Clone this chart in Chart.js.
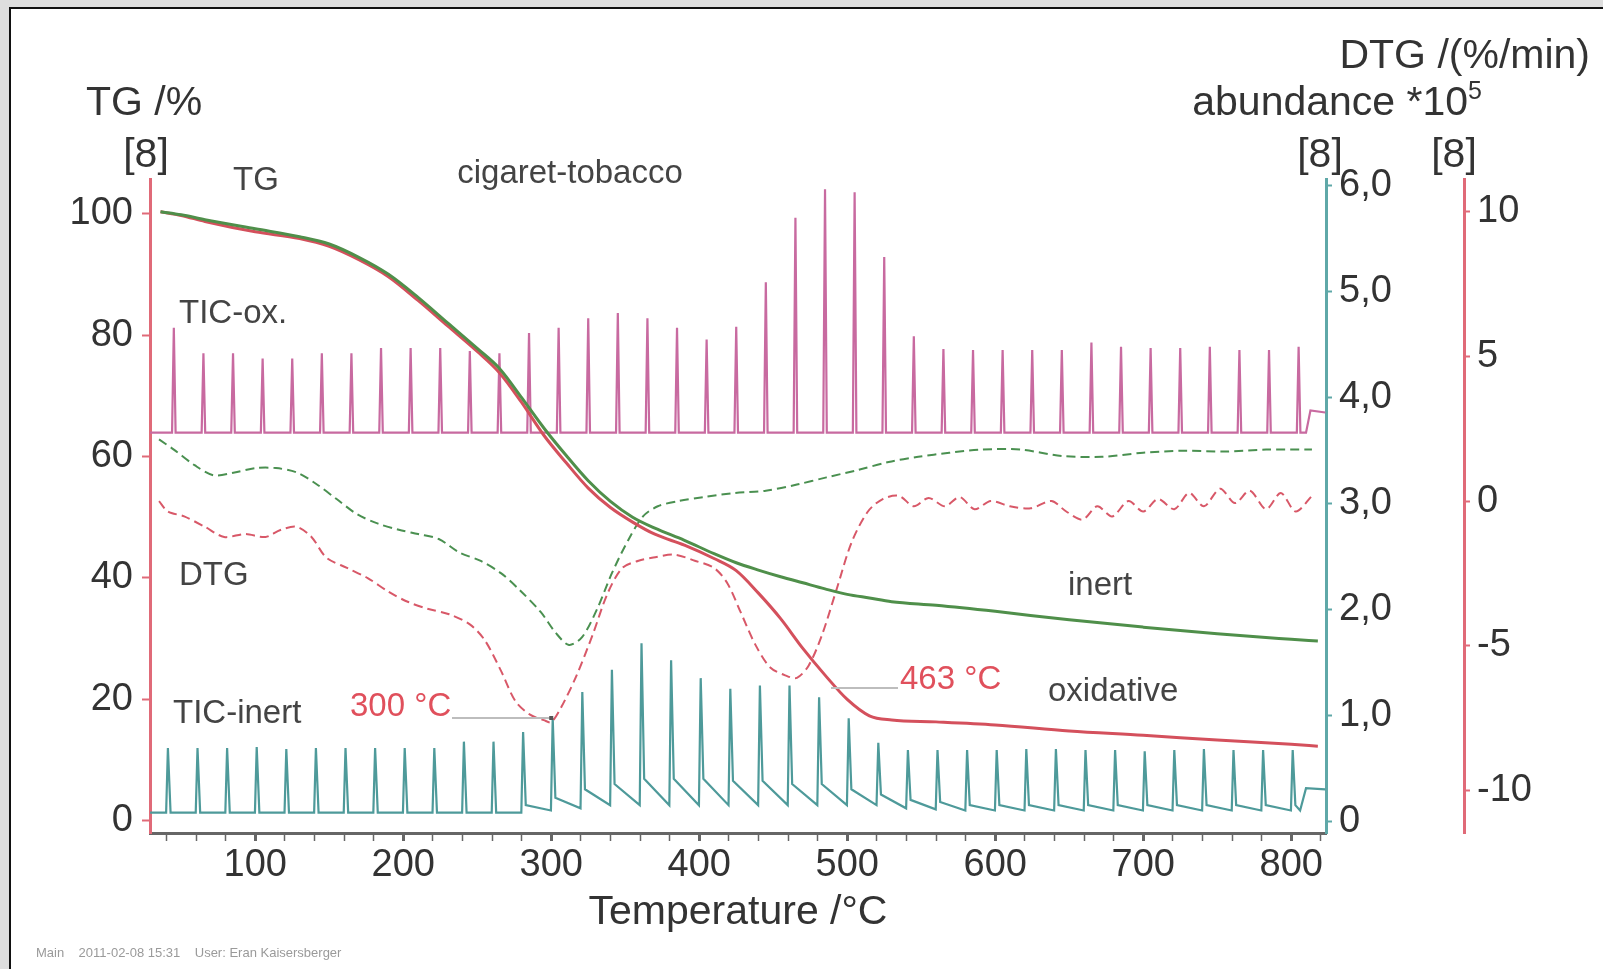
<!DOCTYPE html>
<html><head><meta charset="utf-8">
<script src="https://cdn.jsdelivr.net/npm/chart.js@4.4.1/dist/chart.umd.min.js"></script>
<style>html,body{margin:0;padding:0;background:#fff;overflow:hidden}canvas{display:block}</style>
</head><body>
<canvas id="c" width="1603" height="969"></canvas>
<script>
// ---------- data ----------
const tgTemps = [36,50,66,100,130,150,170,190,210,230,250,265,280,295,310,325,340,355,370,390,410,425,440,455,470,485,500,515,530,560,600,650,700,750,800,818];
const tgOxidative = [100.3,99.7,98.7,97.0,95.9,94.6,92.4,89.6,85.7,81.5,77.3,73.8,68.9,63.5,59.0,54.8,51.6,49.2,47.2,45.4,43.2,41.2,37.5,33.3,28.4,24.0,20.0,17.3,16.6,16.3,15.8,14.8,14.1,13.3,12.6,12.3];
const tgInert = [100.3,99.8,99.0,97.5,96.2,95.0,92.8,90.0,86.2,82.0,77.8,74.5,69.7,64.7,60.2,56.0,52.6,50.0,48.2,46.2,44.0,42.5,41.3,40.2,39.2,38.2,37.3,36.7,36.1,35.5,34.5,33.1,31.9,30.8,29.9,29.6];

const dtgOxTemps = [35,41,52,66,79,93,107,117,128,138,148,162,176,190,203,217,231,245,255,266,276,286,295,300,307,317,328,338,348,359,369,383,397,410,419,428,438,448,459,466,474,483,493,503,514,524,535,545,555,566,576,586,597,610,624,638,648,659,669,679,690,700,710,721,731,741,752,762,772,783,793,803,814];
const dtgOxidative = [0,-0.36,-0.53,-0.89,-1.24,-1.14,-1.24,-1.0,-0.89,-1.24,-1.95,-2.31,-2.66,-3.13,-3.48,-3.73,-3.91,-4.26,-4.8,-5.86,-6.93,-7.39,-7.57,-7.64,-7.1,-6.04,-4.62,-3.2,-2.31,-2.06,-1.95,-1.85,-2.06,-2.31,-2.84,-3.84,-4.97,-5.75,-6.04,-6.11,-5.68,-4.62,-3.02,-1.42,-0.36,0.07,0.18,-0.18,0.11,-0.18,0.14,-0.28,0,-0.18,-0.25,0,-0.36,-0.64,-0.18,-0.53,0,-0.36,0.07,-0.28,0.28,-0.18,0.43,-0.07,0.36,-0.28,0.28,-0.36,0.18];

const dtgInTemps = [35,45,59,72,86,100,114,128,141,155,169,183,197,210,224,238,252,266,279,293,303,312,321,331,341,352,362,372,386,403,424,445,466,486,507,528,548,569,590,617,645,672,700,728,755,783,814];
const dtgInert = [2.13,1.78,1.24,0.89,0.99,1.14,1.14,0.99,0.6,0.07,-0.46,-0.78,-0.99,-1.14,-1.31,-1.78,-2.06,-2.49,-3.09,-3.84,-4.55,-4.97,-4.69,-3.73,-2.49,-1.35,-0.53,-0.18,0,0.14,0.28,0.36,0.57,0.82,1.07,1.35,1.53,1.67,1.78,1.78,1.56,1.53,1.67,1.74,1.71,1.78,1.78];

const ticOxTemps = [45,65,85,105,125,145,165,185,205,225,245,265,285,305,325,345,365,385,405,425,445,465,485,505,525,545,565,585,605,625,645,665,685,705,725,745,765,785,805];
const ticOxPeaks = [4.66,4.42,4.42,4.37,4.37,4.42,4.42,4.47,4.47,4.47,4.44,4.42,4.61,4.66,4.75,4.80,4.75,4.66,4.55,4.67,5.09,5.70,5.97,5.94,5.33,4.58,4.46,4.45,4.45,4.45,4.45,4.52,4.48,4.47,4.47,4.48,4.45,4.45,4.48];
const ticOxBaseline = 3.67;
const ticOxEndTemps = [810,813,823];
const ticOxEndValues = [3.67,3.88,3.86];

const ticInTemps = [41,61,81,101,121,141,161,181,201,221,241,261,281,301,321,341,361,381,401,421,441,461,481,501,521,541,561,581,601,621,641,661,681,701,721,741,761,781,801];
const ticInPeaks = [0.69,0.69,0.69,0.70,0.68,0.69,0.69,0.69,0.69,0.69,0.75,0.75,0.84,0.97,1.22,1.43,1.68,1.52,1.35,1.25,1.28,1.28,1.17,0.97,0.74,0.67,0.67,0.67,0.67,0.68,0.68,0.67,0.67,0.66,0.67,0.68,0.67,0.67,0.67];
const ticInTails = [0.08,0.08,0.08,0.08,0.08,0.08,0.08,0.08,0.08,0.08,0.08,0.08,0.15,0.22,0.3,0.35,0.4,0.4,0.4,0.38,0.38,0.35,0.35,0.3,0.25,0.2,0.18,0.15,0.15,0.15,0.15,0.15,0.15,0.15,0.15,0.15,0.15,0.15,0.15];
const ticInBases = [0.08,0.08,0.08,0.08,0.08,0.08,0.08,0.08,0.08,0.08,0.08,0.08,0.08,0.1,0.12,0.15,0.15,0.15,0.15,0.15,0.15,0.15,0.15,0.15,0.15,0.12,0.11,0.1,0.1,0.1,0.1,0.1,0.1,0.1,0.1,0.1,0.1,0.1,0.1];
const ticInEndTemps = [806,810,823];
const ticInEndValues = [0.1,0.31,0.3];

const xTickLabels = [100,200,300,400,500,600,700,800];
const tgTicks = [0,20,40,60,80,100];
const abundanceTicks = [0,1,2,3,4,5,6];
const dtgTicks = [-10,-5,0,5,10];
const peakLabels = [{t:300, v:-7.64, text:'300 °C'}, {t:463, v:-6.11, text:'463 °C'}];

// ---------- build datasets ----------
const FONT = "'Liberation Sans', Arial, sans-serif";
const pts = (xs, ys) => xs.map((x, i) => ({x: x, y: ys[i]}));
const ticOxData = [{x: 29, y: ticOxBaseline}];
ticOxTemps.forEach((t, i) => {
  ticOxData.push({x: t - 1.2, y: ticOxBaseline}, {x: t, y: ticOxPeaks[i]}, {x: t + 1.2, y: ticOxBaseline});
});
ticOxData.push(...pts(ticOxEndTemps, ticOxEndValues));
const ticInData = [{x: 29, y: ticInBases[0]}];
ticInTemps.forEach((t, i) => {
  ticInData.push({x: t - 1.2, y: ticInBases[i]}, {x: t, y: ticInPeaks[i]}, {x: t + 1.8, y: ticInTails[i]});
});
ticInData.push(...pts(ticInEndTemps, ticInEndValues));

const minorX = [];
for (let v = 40; v <= 820; v += 20) minorX.push(v);

const decor = {
  id: 'decor',
  beforeDraw(chart) {
    const c = chart.ctx;
    c.save();
    c.fillStyle = '#ffffff'; c.fillRect(0, 0, 1603, 969);
    c.fillStyle = '#dedede'; c.fillRect(0, 0, 1603, 7); c.fillRect(0, 0, 9, 969);
    c.fillStyle = '#111'; c.fillRect(9, 7, 1594, 2); c.fillRect(9, 7, 2, 962);
    c.restore();
  },
  afterDraw(chart) {
    const c = chart.ctx;
    const sx = chart.scales.x, sd = chart.scales.yDTG;
    c.save();
    c.textBaseline = 'middle';
    // axis titles
    c.fillStyle = '#333';
    c.font = '41px ' + FONT;
    c.textAlign = 'center';
    c.fillText('TG /%', 144, 104);
    c.fillText('[8]', 146, 156);
    c.textAlign = 'right';
    c.fillText('DTG /(%/min)', 1590, 57);
    c.font = '25px ' + FONT;
    c.fillText('5', 1482, 92);
    const w5 = c.measureText('5').width;
    c.font = '41px ' + FONT;
    c.fillText('abundance *10', 1482 - w5, 104);
    c.textAlign = 'center';
    c.fillText('[8]', 1320, 156);
    c.fillText('[8]', 1454, 156);
    // in-plot labels
    c.font = '33px ' + FONT;
    c.fillStyle = '#444';
    c.textAlign = 'center';
    c.fillText('TG', 256, 181);
    c.fillText('cigaret-tobacco', 570, 174);
    c.textAlign = 'left';
    c.fillText('TIC-ox.', 179, 314);
    c.fillText('DTG', 179, 576);
    c.fillText('TIC-inert', 173, 714);
    c.fillText('inert', 1068, 586);
    c.fillText('oxidative', 1048, 692);
    // peak annotations
    c.fillStyle = '#e0505c';
    c.fillText(peakLabels[0].text, 350, 707);
    c.fillText(peakLabels[1].text, 900, 680);
    c.strokeStyle = '#bdbdbd'; c.lineWidth = 2;
    const p0x = sx.getPixelForValue(peakLabels[0].t), p0y = sd.getPixelForValue(peakLabels[0].v);
    c.beginPath(); c.moveTo(452, 718); c.lineTo(p0x, 718); c.stroke();
    c.beginPath(); c.moveTo(831, 688); c.lineTo(898, 688); c.stroke();
    c.fillStyle = '#555';
    c.fillRect(p0x - 2, 716, 4, 4);
    // footer
    c.font = '13px ' + FONT;
    c.fillStyle = '#9a9a9a';
    c.textAlign = 'left';
    c.fillText('Main    2011-02-08 15:31    User: Eran Kaisersberger', 36, 953);
    c.restore();
  }
};

new Chart(document.getElementById('c'), {
  type: 'line',
  data: {
    datasets: [
      {label: 'TG inert', data: pts(tgTemps, tgInert), yAxisID: 'yTG', borderColor: '#4f8f4a', borderWidth: 3, pointRadius: 0, cubicInterpolationMode: 'monotone'},
      {label: 'TG oxidative', data: pts(tgTemps, tgOxidative), yAxisID: 'yTG', borderColor: '#d4505c', borderWidth: 3, pointRadius: 0, cubicInterpolationMode: 'monotone'},
      {label: 'DTG inert', data: pts(dtgInTemps, dtgInert), yAxisID: 'yDTG', borderColor: '#4a9050', borderWidth: 2, borderDash: [9, 5], pointRadius: 0, tension: 0.3},
      {label: 'DTG oxidative', data: pts(dtgOxTemps, dtgOxidative), yAxisID: 'yDTG', borderColor: '#d85868', borderWidth: 2, borderDash: [9, 5], pointRadius: 0, tension: 0.3},
      {label: 'TIC-ox.', data: ticOxData, yAxisID: 'yAb', borderColor: '#c86aa0', borderWidth: 2.2, pointRadius: 0, tension: 0},
      {label: 'TIC-inert', data: ticInData, yAxisID: 'yAb', borderColor: '#4e9a9a', borderWidth: 2.2, pointRadius: 0, tension: 0}
    ]
  },
  options: {
    responsive: false,
    animation: false,
    devicePixelRatio: 1,
    layout: {padding: {top: 179, left: 0, right: 0, bottom: 0}},
    plugins: {legend: {display: false}, tooltip: {enabled: false}},
    scales: {
      x: {
        type: 'linear', position: 'bottom', min: 28.9, max: 823.5,
        afterBuildTicks: s => { s.ticks = minorX.map(v => ({value: v})); },
        afterFit: s => { s.height = 136; },
        ticks: {autoSkip: false, maxRotation: 0, padding: 2, color: '#333', font: {family: FONT, size: 38},
          callback: v => xTickLabels.includes(v) ? String(v) : ''},
        grid: {drawOnChartArea: false, drawTicks: true, tickLength: 8, tickColor: '#666',
          tickWidth: ctx => (ctx.tick && xTickLabels.includes(ctx.tick.value)) ? 3 : 1.5},
        border: {color: '#666', width: 3},
        title: {display: true, text: 'Temperature /°C', color: '#333', font: {family: FONT, size: 41}, padding: {top: 0, bottom: 32}}
      },
      yTG: {
        type: 'linear', position: 'left', min: -2, max: 105.7,
        afterBuildTicks: s => { s.ticks = tgTicks.map(v => ({value: v})); },
        afterFit: s => { s.width = 150; },
        ticks: {padding: 9, color: '#333', font: {family: FONT, size: 38}},
        grid: {drawOnChartArea: false, tickLength: 8, tickColor: '#e06a78', tickWidth: 2},
        border: {color: '#e06a78', width: 3}
      },
      yAb: {
        type: 'linear', position: 'right', weight: 0, min: -0.113, max: 6.066,
        afterBuildTicks: s => { s.ticks = abundanceTicks.map(v => ({value: v})); },
        afterFit: s => { s.width = 138; },
        ticks: {padding: 7, color: '#333', font: {family: FONT, size: 38},
          callback: v => v === 0 ? '0' : v.toFixed(1).replace('.', ',')},
        grid: {drawOnChartArea: false, tickLength: 6, tickColor: '#5fa8a8', tickWidth: 2},
        border: {color: '#5fa8a8', width: 3}
      },
      yDTG: {
        type: 'linear', position: 'right', weight: 1, min: -11.47, max: 11.13,
        afterBuildTicks: s => { s.ticks = dtgTicks.map(v => ({value: v})); },
        afterFit: s => { s.width = 139; },
        ticks: {padding: 7, color: '#333', font: {family: FONT, size: 38}},
        grid: {drawOnChartArea: false, tickLength: 6, tickColor: '#e06a78', tickWidth: 2},
        border: {color: '#e06a78', width: 3}
      }
    }
  },
  plugins: [decor]
});
</script>
</body></html>
